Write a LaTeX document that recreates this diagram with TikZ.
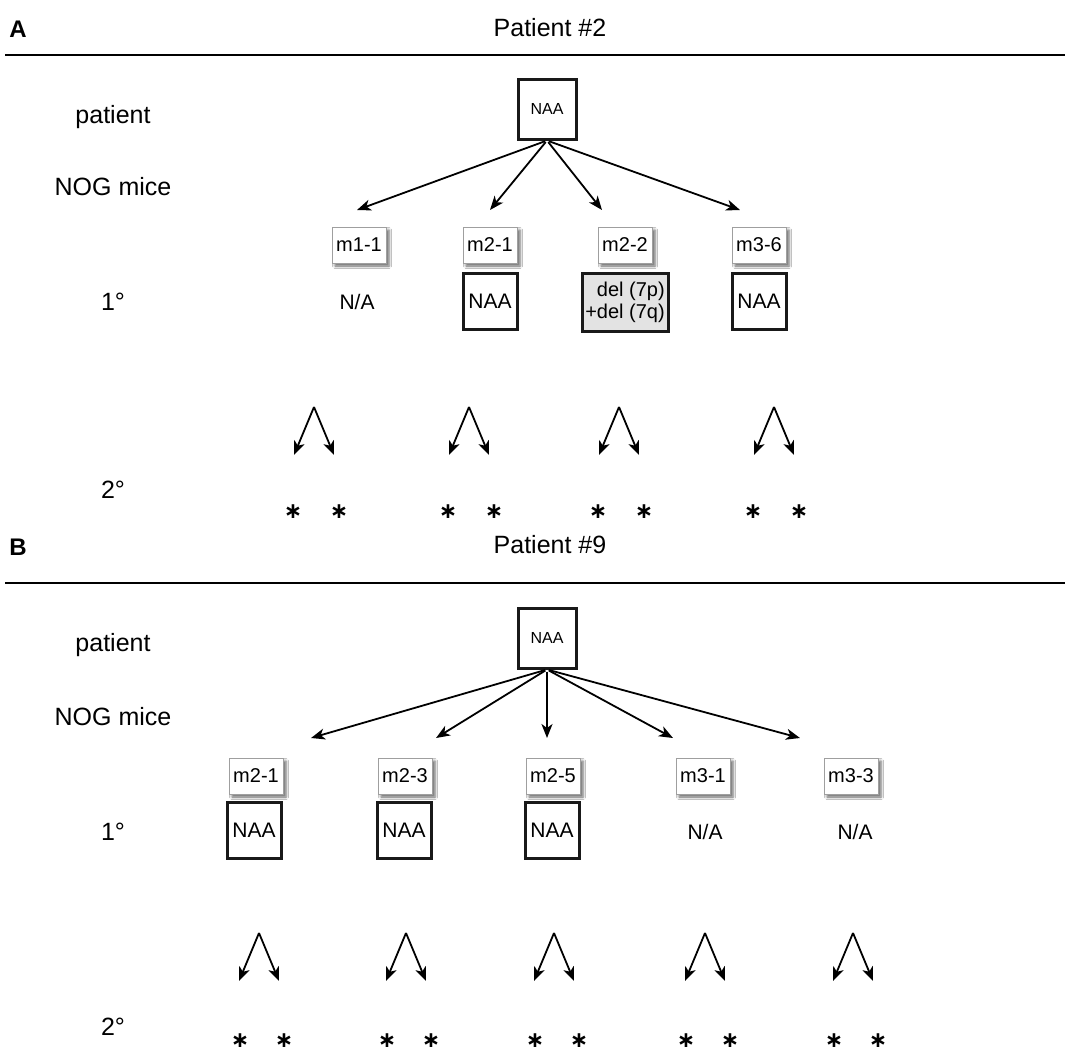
\documentclass[tikz,border=0pt]{standalone}
\usepackage{fontspec}
\setmainfont{Liberation Sans}
\newfontfamily\djv{DejaVu Sans}
\usetikzlibrary{arrows.meta,shadows.blur}
\begin{document}
\begin{tikzpicture}[x=1pt,y=-1pt,
  lab/.style={font=\fontsize{25}{28}\selectfont, inner sep=0pt},
  panel/.style={font=\bfseries\fontsize{24}{28}\selectfont, inner sep=0pt},
  rulel/.style={line width=2.4pt},
  mbox/.style={draw=gray!75, line width=0.8pt, fill=white, minimum width=54, minimum height=36, inner sep=0pt,
    font=\fontsize{20}{24}\selectfont,
    blur shadow={shadow xshift=3pt,shadow yshift=-3pt,shadow blur radius=2.5pt,shadow opacity=60}},
  res/.style={draw=black!90, line width=3pt, fill=white, minimum width=54, minimum height=56, inner sep=0pt,
    font=\fontsize{21}{24}\selectfont},
  top/.style={res, minimum width=58, minimum height=60, font=\fontsize{16}{20}\selectfont},
  na/.style={font=\fontsize{21}{24}\selectfont, inner sep=0pt},
  ast/.style={font=\djv\bfseries\fontsize{22}{22}\selectfont, inner sep=0pt, anchor=base},
  arr/.style={line width=1.8pt, -{Stealth[length=14pt,width=11pt,inset=4pt]}},
]
\useasboundingbox (0,0) rectangle (1065,1053);
\fill[white] (0,0) rectangle (1065,1053);

% ---------------- Panel A ----------------
\node[panel] (labA) at (18,29) {A};
\node[lab] (titA) at (550,28) {Patient \#2};
\coordinate (rA1) at (5,55);
\coordinate (rA2) at (1065,55);
\draw[rulel] (rA1) -- (rA2);

\node[lab] (rowA1) at (113,117) {patient};
\node[lab] (rowA2) at (113,187) {NOG mice};
\node[lab] (rowA3) at (113,302) {1°};
\node[lab] (rowA4) at (113,490) {2°};

\node[top] (pA) at (547,109) {NAA};

\node[mbox] (mA1) at (359,245) {m1-1};
\node[mbox] (mA2) at (490,245) {m2-1};
\node[mbox] (mA3) at (625,245) {m2-2};
\node[mbox] (mA4) at (759,245) {m3-6};

\foreach \i/\x in {1/357,2/490,3/602,4/740}{
  \coordinate (eA\i) at (\x,210);
  \draw[arr, shorten <=2pt] (pA.south) -- (eA\i);
}

\node[na] (rA1n) at (357,302) {N/A};
\node[res] (rA2n) at (490,301) {NAA};
\node[res, fill=gray!22, minimum width=86, minimum height=58, align=right,
      font=\fontsize{20}{22}\selectfont] (rA3n) at (625,302) {del (7p)\\+del (7q)};
\node[res] (rA4n) at (759,301) {NAA};

\foreach \i/\x in {1/314,2/469,3/619,4/774}{
  \coordinate (fA\i) at (\x,407);
  \coordinate (tA\i a) at (\x-20,455);
  \coordinate (tA\i b) at (\x+20,455);
  \draw[arr] (fA\i) -- (tA\i a);
  \draw[arr] (fA\i) -- (tA\i b);
  \node[ast] (sA\i a) at (\x-21,518) {∗};
  \node[ast] (sA\i b) at (\x+25,518) {∗};
}

% ---------------- Panel B ----------------
\node[panel] (labB) at (18,547) {B};
\node[lab] (titB) at (550,545) {Patient \#9};
\coordinate (rB1) at (5,583);
\coordinate (rB2) at (1065,583);
\draw[rulel] (rB1) -- (rB2);

\node[lab] (rowB1) at (113,645) {patient};
\node[lab] (rowB2) at (113,717) {NOG mice};
\node[lab] (rowB3) at (113,832) {1°};
\node[lab] (rowB4) at (113,1027) {2°};

\node[top] (pB) at (547,638) {NAA};

\node[mbox] (mB1) at (256,776) {m2-1};
\node[mbox] (mB2) at (405,776) {m2-3};
\node[mbox] (mB3) at (553,776) {m2-5};
\node[mbox] (mB4) at (703,776) {m3-1};
\node[mbox] (mB5) at (851,776) {m3-3};

\foreach \i/\x/\y in {1/311/738,2/436/738,3/547/738,4/673/738,5/800/738}{
  \coordinate (eB\i) at (\x,\y);
  \draw[arr, shorten <=2pt] (pB.south) -- (eB\i);
}

\node[res] (rB1n) at (254,830) {NAA};
\node[res] (rB2n) at (404,830) {NAA};
\node[res] (rB3n) at (552,830) {NAA};
\node[na] (rB4n) at (705,832) {N/A};
\node[na] (rB5n) at (855,832) {N/A};

\foreach \i/\x in {1/259,2/406,3/554,4/705,5/853}{
  \coordinate (fB\i) at (\x,933);
  \coordinate (tB\i a) at (\x-20,981);
  \coordinate (tB\i b) at (\x+20,981);
  \draw[arr] (fB\i) -- (tB\i a);
  \draw[arr] (fB\i) -- (tB\i b);
  \node[ast] (sB\i a) at (\x-19,1047) {∗};
  \node[ast] (sB\i b) at (\x+25,1047) {∗};
}
\end{tikzpicture}
\end{document}
